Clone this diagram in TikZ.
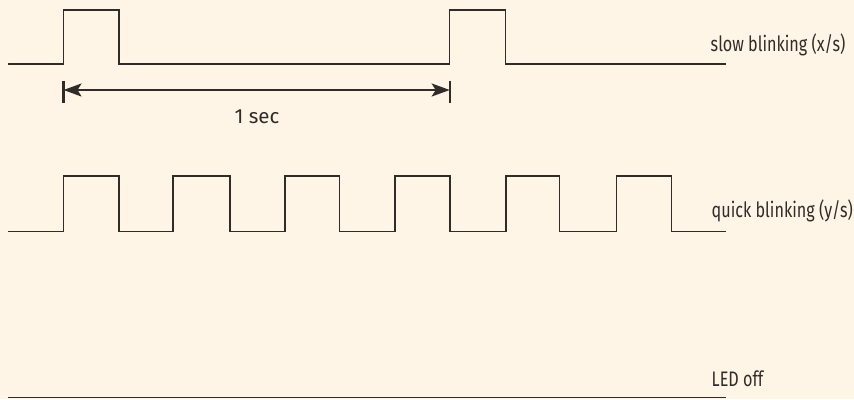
\documentclass[tikz,border=0pt]{standalone}
\usepackage{fontspec}
\setmainfont{Fira Sans}
\newfontfamily\lblfont[FakeStretch=0.77]{Fira Sans}
\usetikzlibrary{arrows.meta}
\definecolor{bgcol}{HTML}{FEF5E6}
\definecolor{ink}{HTML}{322C29}
\tikzset{
  wave/.style={draw=ink, line width=1.4pt, line join=miter},
  lbl/.style={anchor=base west, inner sep=0pt, text=ink, font=\lblfont\fontsize{21}{24}\selectfont},
  dim/.style={draw=ink, line width=2.2pt, {Stealth[length=18pt,width=13pt,inset=4pt]}-{Stealth[length=18pt,width=13pt,inset=4pt]}},
  tick/.style={draw=ink, line width=2.2pt}
}
\begin{document}
\begin{tikzpicture}[x=1pt,y=-1pt]
\fill[bgcol] (0,0) rectangle (854,399);
\useasboundingbox (0,0) rectangle (854,399);
% slow blinking
\draw[wave] (8,64) -- (63.5,64) -- (63.5,10) -- (119,10) -- (119,64) -- (449.7,64) -- (449.7,10) -- (505.7,10) -- (505.7,64) -- (725.5,64);
\node[lbl] (slow) at (710.5,51.5) {slow blinking (x/s)};
% dimension arrow
\coordinate (a1) at (63.5,90);
\coordinate (a2) at (449.7,90);
\coordinate (t1a) at (63.5,80.5);
\coordinate (t1b) at (63.5,102.5);
\coordinate (t2a) at (449.7,80.5);
\coordinate (t2b) at (449.7,102.5);
\draw[tick] (t1a) -- (t1b);
\draw[tick] (t2a) -- (t2b);
\draw[dim] (a1) -- (a2);
\node[lbl, anchor=base, font=\fontsize{20.5}{24}\selectfont] (sec) at (257,123) {1 sec};
% quick blinking
\draw[wave] (8,231.5) -- (63.5,231.5)
  -- (63.5,176) -- (119,176) -- (119,231.5)
  -- (173,231.5) -- (173,176) -- (230,176) -- (230,231.5)
  -- (285,231.5) -- (285,176) -- (339.5,176) -- (339.5,231.5)
  -- (395,231.5) -- (395,176) -- (450,176) -- (450,231.5)
  -- (506,231.5) -- (506,176) -- (559.5,176) -- (559.5,231.5)
  -- (616.5,231.5) -- (616.5,176) -- (671.5,176) -- (671.5,231.5)
  -- (725.5,231.5);
\node[lbl] (quick) at (711.5,217.5) {quick blinking (y/s)};
% LED off
\draw[wave] (8,397.5) -- (725.5,397.5);
\node[lbl] (off) at (711.5,386) {LED off};
\end{tikzpicture}
\end{document}
